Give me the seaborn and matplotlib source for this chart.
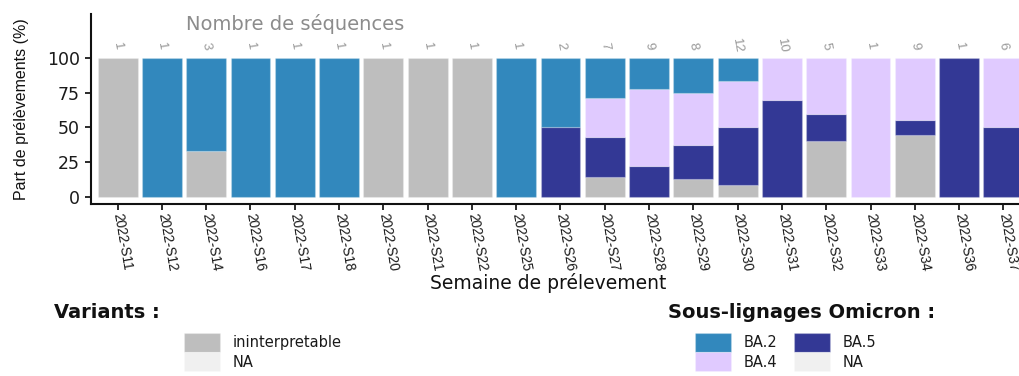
import numpy as np
import pandas as pd
import matplotlib
matplotlib.use("Agg")
import matplotlib.pyplot as plt
from matplotlib.patches import Patch
from matplotlib import font_manager
import seaborn as sns

# Weekly sequencing results (number of samples per category)
weeks = ["2022-S11", "2022-S12", "2022-S14", "2022-S16", "2022-S17", "2022-S18",
         "2022-S20", "2022-S21", "2022-S22", "2022-S25", "2022-S26", "2022-S27",
         "2022-S28", "2022-S29", "2022-S30", "2022-S31", "2022-S32", "2022-S33",
         "2022-S34", "2022-S36", "2022-S37"]
n_ininterpretable = [1, 0, 1, 0, 0, 0, 1, 1, 1, 0, 0, 1, 0, 1, 1, 0, 2, 0, 4, 0, 0]
n_ba5 = [0, 0, 0, 0, 0, 0, 0, 0, 0, 0, 1, 2, 2, 2, 5, 7, 1, 0, 1, 1, 3]
n_ba4 = [0, 0, 0, 0, 0, 0, 0, 0, 0, 0, 0, 2, 5, 3, 4, 3, 2, 1, 4, 0, 3]
n_ba2 = [0, 1, 2, 1, 1, 1, 0, 0, 0, 1, 1, 2, 2, 2, 2, 0, 0, 0, 0, 0, 0]

stack_order = ["ininterpretable", "BA.5", "BA.4", "BA.2"]
variant_labels = ["ininterpretable", "NA"]
omicron_labels = ["BA.2", "BA.4", "BA.5", "NA"]
y_ticks = [0, 25, 50, 75, 100]

palette = {
    "ininterpretable": "#BEBEBE",
    "BA.2": "#3288BD",
    "BA.4": "#E0CAFF",
    "BA.5": "#333895",
    "NA": "#F0F0F0",
}

counts = pd.DataFrame({
    "semaine": weeks,
    "ininterpretable": n_ininterpretable,
    "BA.5": n_ba5,
    "BA.4": n_ba4,
    "BA.2": n_ba2,
})
totals = counts[stack_order].sum(axis=1).to_numpy()
shares = counts[stack_order].div(totals, axis=0) * 100

sns.set_theme(style="ticks")
plt.rcParams["font.family"] = ["DejaVu Sans"]

installed = {f.name for f in font_manager.fontManager.ttflist}
if "Liberation Sans Narrow" in installed:
    narrow = ["Liberation Sans Narrow", "DejaVu Sans"]
    tick_fs, ylab_fs, n_fs = 11, 13.5, 11
else:
    narrow = ["Liberation Sans", "DejaVu Sans"]
    tick_fs, ylab_fs, n_fs = 9.8, 11.5, 9.5

W, H = 1020, 376
fig = plt.figure(figsize=(W / 100, H / 100), dpi=100)
ax = fig.add_axes([91 / W, 1 - 204 / H, (1030 - 91) / W, (204 - 14) / H])

edge = (1, 1, 1, 0.22)
bottom = np.zeros(len(weeks))
for cat in stack_order:
    vals = shares[cat].to_numpy()
    sns.barplot(x=weeks, y=vals, order=weeks, bottom=bottom, color=palette[cat],
                saturation=1, width=0.9, errorbar=None, edgecolor=edge,
                linewidth=np.where(vals > 0, 0.9, 0.0), ax=ax)
    bottom = bottom + vals

# Sample counts above each bar
for i, n in enumerate(totals):
    ax.text(i, 109, str(n), rotation=-80, ha="center", va="center",
            color="#999999", fontsize=n_fs, family=narrow)
ax.text(4, 125, "Nombre de séquences", ha="center", va="center",
        color="#8c8c8c", fontsize=14)

ax.set_xlim(-0.6, len(weeks) - 0.4)
ax.set_ylim(-5.3, 132)
ax.set_yticks(y_ticks)
ax.set_yticklabels([str(t) for t in y_ticks], fontsize=12.5, color="#1a1a1a")
ax.set_xticks(range(len(weeks)))
ax.set_xticklabels(weeks, rotation=-80, ha="left", va="center",
                   rotation_mode="anchor", fontsize=tick_fs, color="#1a1a1a",
                   family=narrow)
ax.tick_params(axis="both", length=4, width=1.3, color="#1a1a1a")
ax.tick_params(axis="y", pad=4)
ax.tick_params(axis="x", pad=3)
sns.despine(ax=ax)
for s in ("left", "bottom"):
    ax.spines[s].set_linewidth(1.5)
    ax.spines[s].set_color("#111111")

ax.set_xlabel("Semaine de prélevement", fontsize=13.5, color="#111111")
ax.xaxis.set_label_coords((548 - 91) / 939, -(283 - 204) / 190)
ax.xaxis.label.set_va("center")
ax.set_ylabel("Part de prélèvements (%)", fontsize=ylab_fs, color="#111111",
              family=narrow)
ax.yaxis.set_label_coords((22 - 91) / 939, 0.5)
ax.yaxis.label.set_va("center")

# Legends
fig.text(54 / W, 1 - 312 / H, "Variants :", fontsize=14, fontweight="bold",
         ha="left", va="center", color="#111111")
fig.text(668 / W, 1 - 312 / H, "Sous-lignages Omicron :", fontsize=14,
         fontweight="bold", ha="left", va="center", color="#111111")

leg_kw = dict(loc="upper left", frameon=False, fontsize=10.5, handlelength=2.47,
              handleheight=1.65, handletextpad=0.85, labelspacing=0.0,
              borderpad=0, borderaxespad=0, labelcolor="#1a1a1a")

var_handles = [Patch(facecolor=palette[k], edgecolor=edge, linewidth=0.9, label=k)
               for k in variant_labels]
fig.legend(handles=var_handles, bbox_to_anchor=(184 / W, 1 - 333 / H), **leg_kw)

om_handles = [Patch(facecolor=palette[k], edgecolor=edge, linewidth=0.9, label=k)
              for k in omicron_labels]
fig.legend(handles=om_handles, bbox_to_anchor=(695 / W, 1 - 333 / H), ncol=2,
           columnspacing=1.15, **leg_kw)

fig.savefig("out.png", dpi=100)
